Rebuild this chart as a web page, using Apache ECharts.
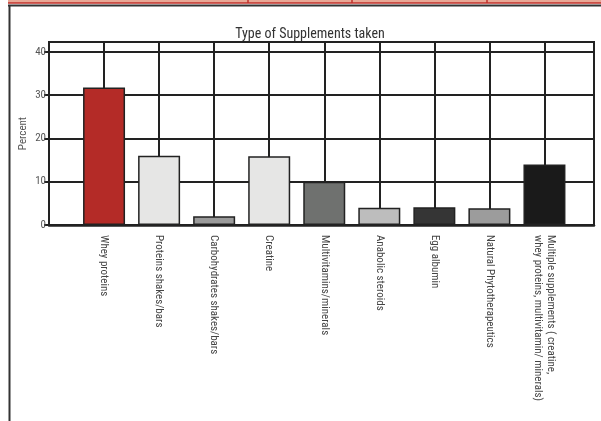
<!DOCTYPE html>
<html>
<head>
<meta charset="utf-8">
<script src="https://cdn.jsdelivr.net/npm/echarts@6/dist/echarts.min.js"></script>
<style>html,body{margin:0;padding:0;background:#fff;}#c{width:601px;height:421px;}</style>
</head>
<body>
<div id="c"></div>
<script>
const categories = ["Whey proteins","Proteins shakes/bars","Carbohydrates shakes/bars","Creatine","Multivitamins/minerals","Anabolic steroids","Egg albumin","Natural Phytotherapeutics","Multiple supplements ( creatine,\nwhey proteins, multivitamin/ minerals)"];
const values = [31.8, 16, 2, 15.9, 10, 4, 4.1, 3.9, 14];
const barColors = ["#b42b27","#e6e6e5","#9b9b9b","#e6e6e5","#6f716f","#bdbdbd","#353535","#9c9c9c","#1a1a1a"];
const yTicks = [0,10,20,30,40];

const FONT = "'Liberation Sans Narrow','Roboto Condensed','Liberation Sans',sans-serif";
const chart = echarts.init(document.getElementById('c'), null, {renderer:'canvas'});
chart.setOption({
  backgroundColor:'#fff',
  animation:false,
  title:{text:'Type of Supplements taken', left:305, top:22, textAlign:'center',
    textStyle:{fontFamily:FONT, fontSize:14, fontWeight:'normal', color:'#333'}},
  grid:{left:49, right:7, top:42, bottom:196, show:true, borderColor:'#222', borderWidth:2, backgroundColor:'transparent'},
  xAxis:{type:'value', min:0, max:9.9, interval:1,
    axisLine:{show:true, lineStyle:{color:'#222', width:2.5}},
    axisTick:{show:false},
    splitLine:{show:true, lineStyle:{color:'#222', width:2}},
    axisLabel:{rotate:-90, margin:10, fontFamily:FONT, fontSize:11, color:'#444', lineHeight:13,
      showMaxLabel:false,
      formatter:function(v){ const i=Math.round(v)-1; return (Math.abs(v-Math.round(v))<1e-6 && categories[i]) ? categories[i] : ''; }}
  },
  yAxis:{type:'value', min:0, max:42.3, interval:10,
    name:'Percent', nameLocation:'middle', nameGap:20, nameRotate:90, nameMoveOverlap:false,
    nameTextStyle:{fontFamily:FONT, fontSize:11, color:'#555'},
    axisLine:{show:true, lineStyle:{color:'#222', width:2}},
    axisTick:{show:true, length:5, lineStyle:{color:'#222', width:2}},
    splitLine:{show:true, lineStyle:{color:'#222', width:2}},
    axisLabel:{fontFamily:FONT, fontSize:11, color:'#555', margin:3, showMaxLabel:false,
      formatter:function(v){ return yTicks.indexOf(v)>=0 ? String(v) : ''; }}
  },
  series:[{type:'bar', barWidth:42,
    data: categories.map((c,i)=>({value:[i+1, values[i]], itemStyle:{color:barColors[i], borderColor:'#222', borderWidth:1.5}}))
  }],
  graphic:[
    {type:'rect', shape:{x:8,y:0,width:593,height:3}, style:{fill:'#e8a896'}, silent:true},
    {type:'line', shape:{x1:8,y1:3,x2:601,y2:3}, style:{stroke:'#c0302a', lineWidth:1.5}},
    {type:'line', shape:{x1:248,y1:0,x2:248,y2:3}, style:{stroke:'#c0302a', lineWidth:1.5}},
    {type:'line', shape:{x1:352,y1:0,x2:352,y2:3}, style:{stroke:'#c0302a', lineWidth:1.5}},
    {type:'line', shape:{x1:487,y1:0,x2:487,y2:3}, style:{stroke:'#c0302a', lineWidth:1.5}},
    {type:'line', shape:{x1:8,y1:5.5,x2:601,y2:5.5}, style:{stroke:'#333', lineWidth:2}},
    {type:'line', shape:{x1:9.5,y1:5,x2:9.5,y2:421}, style:{stroke:'#333', lineWidth:2}}
  ]
});
</script>
</body>
</html>
